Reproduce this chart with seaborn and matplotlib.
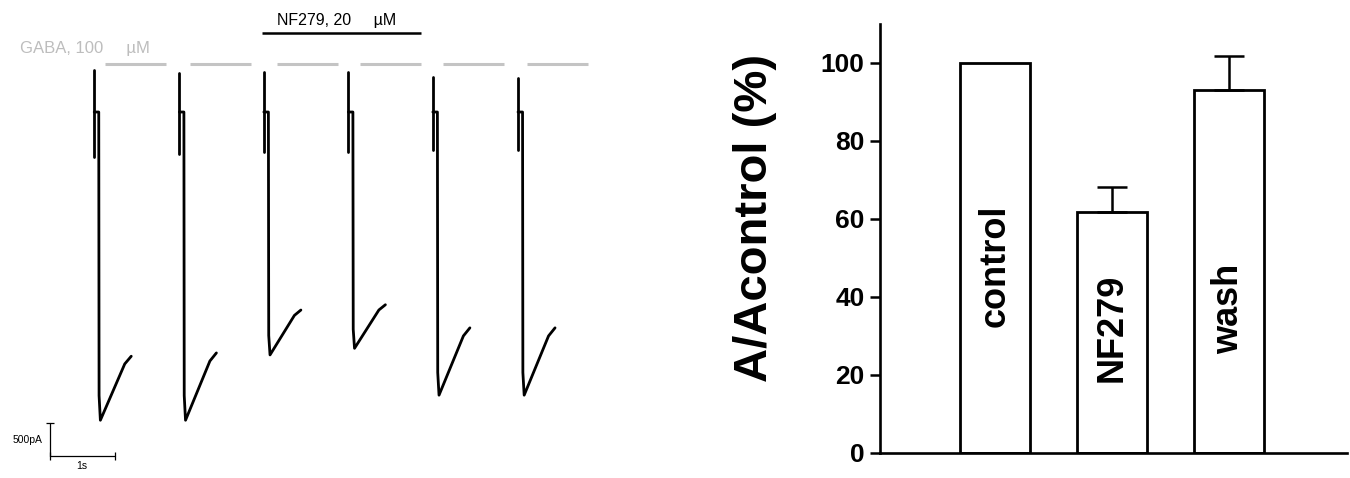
import numpy as np
import pandas as pd
import seaborn as sns
import matplotlib.pyplot as plt

# ---- left panel: current traces (time in s, current in pA)
trace_onset_s = [0.68, 1.99, 3.29, 4.59, 5.89, 7.20]
trace_peak_pA = [-4670, -4670, -3680, -3580, -4290, -4290]
trace_end_pA = [-3700, -3650, -3000, -2920, -3270, -3270]
artifact_top_pA = [636, 590, 610, 600, 530, 515]
artifact_bottom_pA = [-680, -636, -600, -600, -575, -575]

gaba_start_s = [0.85, 2.15, 3.49, 4.77, 6.05, 7.34]
gaba_duration_s = 0.94
nf279_start_s = 3.26
nf279_end_s = 5.71

# ---- right panel: normalized amplitudes
conditions = ['control', 'NF279', 'wash']
amplitude_pct = [100.0, 61.8, 93.1]
sem_pct = [0.0, 6.4, 8.7]
label_y_pct = [48, 32, 37]

sns.set_style('white')
plt.rcParams['font.family'] = ['Liberation Sans', 'DejaVu Sans']
plt.rcParams.update({'text.color': 'black', 'axes.labelcolor': 'black',
                     'xtick.color': 'black', 'ytick.color': 'black'})


def build_trace_df():
    rows = []
    for i, t0 in enumerate(trace_onset_s):
        # stimulus artifact
        for y in (artifact_top_pA[i], artifact_bottom_pA[i]):
            rows.append((f'art{i}', t0, y))
        # current response
        pk = trace_peak_pA[i]
        end = trace_end_pA[i]
        pts = [(t0, 0), (t0 + 0.07, 0), (t0 + 0.075, 0.92 * pk),
               (t0 + 0.095, pk), (t0 + 0.47, end + 0.12 * (pk - end)),
               (t0 + 0.57, end)]
        for t, y in pts:
            rows.append((f'cur{i}', t, y))
    return pd.DataFrame(rows, columns=['seg', 't', 'I'])


fig = plt.figure(figsize=(13.5, 4.78), dpi=100)

# left panel
ax1 = fig.add_axes([0, 0, 620 / 1350, 1])
df = build_trace_df()
sns.lineplot(data=df, x='t', y='I', units='seg', estimator=None, sort=False,
             color='black', linewidth=2, ax=ax1)
for s in gaba_start_s:
    ax1.plot([s, s + gaba_duration_s], [727, 727], color='#c4c4c4', lw=2.2, solid_capstyle='butt')
ax1.plot([nf279_start_s, nf279_end_s], [1197, 1197], color='black', lw=1.8, solid_capstyle='butt')
ax1.text(-0.46, 960, 'GABA, 100     µM', color='#bdbdbd', fontsize=12, ha='left', va='center')
ax1.text(3.49, 1390, 'NF279, 20     µM', color='black', fontsize=11.5, ha='left', va='center')

# scale bars: 500 pA, 1 s
ax1.plot([0, 0], [-5212, -4712], color='black', lw=0.9)
ax1.plot([0, 1], [-5212, -5212], color='black', lw=0.9)
ax1.plot([0], [-4712], marker='_', ms=6, color='black', mew=0.9)
ax1.plot([0, 1], [-5212, -5212], ls='none', marker='|', ms=6, color='black', mew=0.9)
ax1.text(-0.12, -4970, '500pA', fontsize=7.5, ha='right', va='center')
ax1.text(0.49, -5364, '1s', fontsize=7.5, ha='center', va='center')
ax1.set_xlim(-50 / 65, 570 / 65)
ax1.set_ylim(-5545, 1697)
ax1.axis('off')

# right panel
ax2 = fig.add_axes([880 / 1350, 1 - 453 / 478, 467 / 1350, 429 / 478])
bar_df = pd.DataFrame({'condition': conditions, 'amplitude': amplitude_pct})
sns.barplot(data=bar_df, x='condition', y='amplitude', color='white',
            edgecolor='black', linewidth=2, width=0.6, errorbar=None, ax=ax2)
x = np.arange(len(conditions))
err_mask = np.array(sem_pct) > 0
ax2.errorbar(x[err_mask], np.array(amplitude_pct)[err_mask],
             yerr=[np.zeros(err_mask.sum()), np.array(sem_pct)[err_mask]],
             fmt='none', ecolor='black', elinewidth=1.8, capsize=11, capthick=1.8)
for i, name in enumerate(conditions):
    ax2.text(i, label_y_pct[i], name, rotation=90, ha='center', va='center',
             fontsize=26, fontweight='bold', color='black')

ax2.set_xlim(-0.983, 3.009)
ax2.set_ylim(0, 110)
ax2.set_yticks([0, 20, 40, 60, 80, 100])
ax2.set_xticks([])
ax2.set_xlabel('')
ax2.set_ylabel('A/Acontrol (%)', fontsize=34, fontweight='bold', va='center', color='black')
ax2.yaxis.set_label_coords(-0.268, 0.548)
ax2.tick_params(axis='y', direction='out', length=7, width=1.8, labelsize=19, pad=4,
                left=True, colors='black')
for lab in ax2.get_yticklabels():
    lab.set_fontweight('bold')
for side in ['top', 'right']:
    ax2.spines[side].set_visible(False)
for side in ['left', 'bottom']:
    ax2.spines[side].set_linewidth(1.9)
    ax2.spines[side].set_color('black')
ax2.set_facecolor('none')

fig.savefig('out.png', dpi=100)
